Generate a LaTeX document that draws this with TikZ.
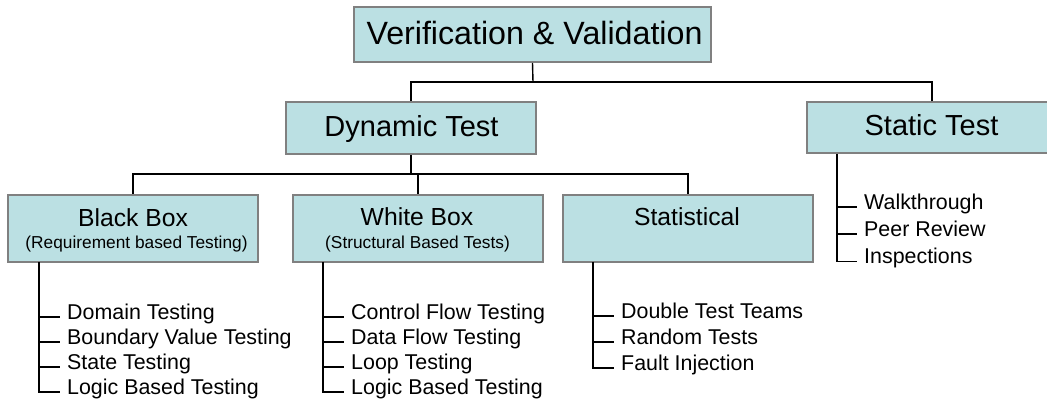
\documentclass[tikz,border=0pt]{standalone}
\usepackage{fontspec}
\setmainfont{Liberation Sans}
\definecolor{boxfill}{RGB}{187,224,227}
\definecolor{boxedge}{RGB}{128,128,128}
\begin{document}
\begin{tikzpicture}[x=1pt,y=-1pt,
  box/.style={rectangle, draw=boxedge, line width=2pt, fill=boxfill, inner sep=0pt},
  title/.style={anchor=base, inner sep=0pt},
  link/.style={line width=1.4pt, black},
  item/.style={anchor=west, inner xsep=7pt, inner ysep=0pt,
    text height=0.75em, text depth=0.25em, font=\fontsize{21.4}{25}\selectfont},
]
\useasboundingbox (0,0) rectangle (1047,406);
\clip (0,0) rectangle (1047,406);

% boxes
\node[box, minimum width=357pt, minimum height=55pt] (vv)  at (532.5,34.5) {};
\node[box, minimum width=250pt, minimum height=52pt] (dyn) at (411,128) {};
\node[box, minimum width=250pt, minimum height=51pt] (sta) at (932,128) {};
\node[box, minimum width=250pt, minimum height=67pt] (bb)  at (133,228.5) {};
\node[box, minimum width=250pt, minimum height=67pt] (wb)  at (418,228.5) {};
\node[box, minimum width=250pt, minimum height=67pt] (st)  at (688,228.5) {};

% box titles
\node[title, font=\fontsize{32.2}{36}\selectfont] (vvt)  at (534.5,45)  {Verification \& Validation};
\node[title, font=\fontsize{29}{33}\selectfont]   (dynt) at (411.5,137) {Dynamic Test};
\node[title, font=\fontsize{29}{33}\selectfont]   (stat) at (931.5,136) {Static Test};
\node[title, font=\fontsize{24.7}{28}\selectfont] (bbt)  at (133,226.5) {Black Box};
\node[title, font=\fontsize{17.3}{20}\selectfont] (bbs)  at (136.5,248) {(Requirement based Testing)};
\node[title, font=\fontsize{24.7}{28}\selectfont] (wbt)  at (417,225.5) {White Box};
\node[title, font=\fontsize{17.3}{20}\selectfont] (wbs)  at (417.5,248) {(Structural Based Tests)};
\node[title, font=\fontsize{24.7}{28}\selectfont] (stt)  at (687,225.5) {Statistical};

% tree connectors
\coordinate (j1) at (533,82);
\coordinate (j2) at (411,174);
\draw[link] (vv.south) -- (j1);
\draw[link] (dyn.north) |- (j1);
\draw[link] (sta.north) |- (j1);
\draw[link] (dyn.south) -- (j2);
\draw[link] (bb.north) |- (j2);
\draw[link] (wb.north) -- (wb.north |- j2);
\draw[link] (st.north) |- (j2);

% Black Box list
\coordinate (bbr) at (39,262);
\node[item] (bb1) at (60,317) {Domain Testing};
\node[item] (bb2) at (60,342) {Boundary Value Testing};
\node[item] (bb3) at (60,367) {State Testing};
\node[item] (bb4) at (60,392) {Logic Based Testing};
\draw[link] (bbr) |- (bb4.west);
\foreach \n in {bb1,bb2,bb3} \draw[link] (\n.west -| bbr) -- (\n.west);

% White Box list
\coordinate (wbr) at (323,262);
\node[item] (wb1) at (344,317) {Control Flow Testing};
\node[item] (wb2) at (344,342) {Data Flow Testing};
\node[item] (wb3) at (344,367) {Loop Testing};
\node[item] (wb4) at (344,392) {Logic Based Testing};
\draw[link] (wbr) |- (wb4.west);
\foreach \n in {wb1,wb2,wb3} \draw[link] (\n.west -| wbr) -- (\n.west);

% Statistical list
\coordinate (str) at (593,262);
\node[item] (st1) at (614,316) {Double Test Teams};
\node[item] (st2) at (614,342) {Random Tests};
\node[item] (st3) at (614,368) {Fault Injection};
\draw[link] (str) |- (st3.west);
\foreach \n in {st1,st2} \draw[link] (\n.west -| str) -- (\n.west);

% Static Test list
\coordinate (sar) at (837,154);
\node[item] (sa1) at (857,207) {Walkthrough};
\node[item] (sa2) at (857,234) {Peer Review};
\node[item] (sa3) at (857,261.5) {Inspections};
\draw[link] (sar) |- (sa3.west);
\foreach \n in {sa1,sa2} \draw[link] (\n.west -| sar) -- (\n.west);
\end{tikzpicture}
\end{document}
